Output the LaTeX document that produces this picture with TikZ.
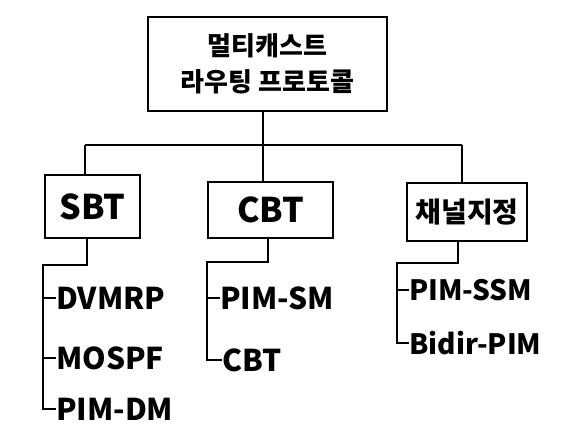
\documentclass[tikz,border=0pt]{standalone}
\usepackage{fontspec}
\setmainfont{Noto Sans CJK KR}
\begin{document}
\begin{tikzpicture}[x=1pt,y=-1pt,
  box/.style={draw,line width=2.6pt,rectangle,inner sep=0pt,font=\fontsize{34}{36}\selectfont\bfseries},
  item/.style={anchor=west,inner sep=0pt,font=\fontsize{30}{32}\selectfont\bfseries},
  smallitem/.style={item,font=\fontsize{28}{30}\selectfont\bfseries},
  wire/.style={line width=2.4pt,line join=miter}]
\useasboundingbox (0,0) rectangle (571,442);
\node[box,minimum width=239pt,minimum height=94pt,align=center,font=\fontsize{26}{36}\selectfont\bfseries] (top) at (267.5,64) {멀티캐스트\\라우팅 프로토콜};
\node[box,minimum width=95pt,minimum height=63pt] (sbt) at (92.5,206.5) {SBT};
\node[box,minimum width=125pt,minimum height=56pt] (cbt) at (270.5,210) {CBT};
\node[box,minimum width=120pt,minimum height=58pt,font=\fontsize{28}{30}\selectfont\bfseries] (chan) at (467,212) {채널지정};
% bar
\coordinate (barL) at (85,145);
\coordinate (barM) at (263,145);
\coordinate (barR) at (462,145);
\draw[wire] (barL) -- (barR);
\draw[wire] (top.south -| barM) -- (barM);
\draw[wire] (barL) -- (sbt.north -| barL);
\draw[wire] (barM) -- (cbt.north -| barM);
\draw[wire] (barR) -- (chan.north -| barR);
% SBT list
\node[item] (dvmrp) at (56,298) {DVMRP};
\node[item] (mospf) at (56,358) {MOSPF};
\node[item] (pimdm) at (56,409) {PIM-DM};
\coordinate (s1) at (87,265);
\coordinate (s2) at (43,265);
\draw[wire] (sbt.south -| s1) -- (s1) -- (s2) -- (s2 |- pimdm.west) -- (pimdm.west);
\draw[wire] (s2 |- dvmrp.west) -- (dvmrp.west);
\draw[wire] (s2 |- mospf.west) -- (mospf.west);
% CBT list
\node[item] (pimsm) at (220,298) {PIM-SM};
\node[item] (cbt2) at (222,360) {CBT};
\coordinate (c1) at (268,262);
\coordinate (c2) at (207,262);
\draw[wire] (cbt.south -| c1) -- (c1) -- (c2) -- (c2 |- cbt2.west) -- (cbt2.west);
\draw[wire] (c2 |- pimsm.west) -- (pimsm.west);
% channel list
\node[smallitem] (pimssm) at (409,290) {PIM-SSM};
\node[smallitem] (bidir) at (409,343) {Bidir-PIM};
\coordinate (h1) at (458,263);
\coordinate (h2) at (397,263);
\draw[wire] (chan.south -| h1) -- (h1) -- (h2) -- (h2 |- bidir.west) -- (bidir.west);
\draw[wire] (h2 |- pimssm.west) -- (pimssm.west);
\end{tikzpicture}
\end{document}
